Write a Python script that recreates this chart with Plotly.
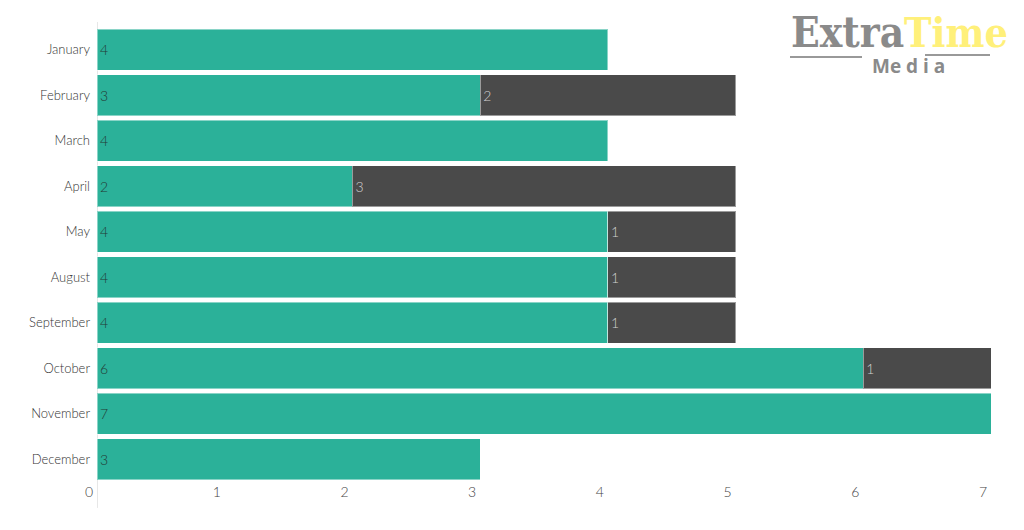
import plotly.graph_objects as go

months = ["January", "February", "March", "April", "May", "August",
          "September", "October", "November", "December"]
series_a = [4, 3, 4, 2, 4, 4, 4, 6, 7, 3]
series_b = [0, 2, 0, 3, 1, 1, 1, 1, 0, 0]
x_ticks = [0, 1, 2, 3, 4, 5, 6, 7]

green = "#2BB199"
dark = "#4A4A4A"
font = "Lato"

b_vals = [v if v else None for v in series_b]

fig = go.Figure()
fig.add_trace(go.Bar(
    y=months, x=series_a, orientation="h", marker=dict(color=green, line=dict(color="rgba(255,255,255,0.45)", width=1)),
    text=[str(v) for v in series_a], textposition="inside", insidetextanchor="start",
    textfont=dict(family=font, size=14, color="#243b35", weight=300), hoverinfo="x+y", name="A",
))
fig.add_trace(go.Bar(
    y=months, x=b_vals, orientation="h", marker=dict(color=dark, line=dict(color="rgba(255,255,255,0.45)", width=1)),
    text=[str(v) if v else "" for v in series_b], textposition="inside", insidetextanchor="start",
    textfont=dict(family=font, size=14, color="#d0d0d0", weight=300), hoverinfo="x+y", name="B",
))

fig.update_layout(
    barmode="stack", bargap=0.1,
    width=1024, height=530,
    margin=dict(l=89, r=32, t=19, b=56),
    paper_bgcolor="white", plot_bgcolor="white",
    showlegend=False,
    font=dict(family=font, color="#333"),
    uniformtext=dict(mode="show", minsize=13),
)
fig.update_xaxes(range=[0, 7.07], tickvals=x_ticks, ticktext=[str(t) for t in x_ticks],
                 showgrid=False, zeroline=False, showline=False, ticks="",
                 tickfont=dict(family=font, size=14, color="#444", weight=300), ticklabelshift=-8)
fig.update_yaxes(categoryorder="array", categoryarray=months, autorange="reversed",
                 showgrid=False, zeroline=False, showline=False, ticks="",
                 tickfont=dict(family=font, size=13, color="#333", weight=300), ticklabelstandoff=6)

fig.add_shape(type="line", xref="x", yref="paper", x0=0, x1=0, y0=-0.057, y1=1.011,
              line=dict(color="#d0d0d0", width=1), layer="below")

# logo
def px(x):
    return (x - 8 - 89) / 903

def py(y):
    return (474 - (y - 8)) / 455

fig.add_annotation(xref="paper", yref="paper", x=px(906), y=py(33), xanchor="right", yanchor="middle",
                   text="<b>Extra</b>", showarrow=False,
                   font=dict(family="DejaVu Serif Condensed", size=42, color="#8a8a8a"))
fig.add_annotation(xref="paper", yref="paper", x=px(902), y=py(33), xanchor="left", yanchor="middle",
                   text="<b>Time</b>", showarrow=False,
                   font=dict(family="DejaVu Serif Condensed", size=41, color="#FFF07A"))
fig.add_annotation(xref="paper", yref="paper", x=px(908), y=py(66), xanchor="center", yanchor="middle",
                   text="<b>Me d i a</b>", showarrow=False,
                   font=dict(family="Open Sans", size=19, color="#8a8a8a"))
fig.add_shape(type="line", xref="paper", yref="paper", x0=px(790), x1=px(862), y0=py(57), y1=py(57),
              line=dict(color="#999", width=2))
fig.add_shape(type="line", xref="paper", yref="paper", x0=px(925), x1=px(990), y0=py(55), y1=py(55),
              line=dict(color="#999", width=2))

fig.write_html("out.html")
